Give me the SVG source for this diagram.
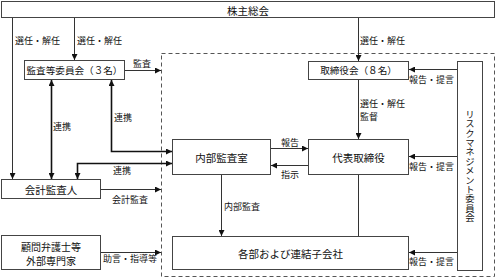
<svg xmlns="http://www.w3.org/2000/svg" width="496" height="279" viewBox="0 0 496 279">
<defs>
<marker id="ah" markerUnits="userSpaceOnUse" markerWidth="7" markerHeight="6" refX="6" refY="3" orient="auto-start-reverse"><path d="M0,0 L6,3 L0,6 z" fill="#111"/></marker>
<style>
.box{fill:#fff;stroke:#444;stroke-width:1}
.t{font-family:"Noto Sans CJK JP","Noto Sans",sans-serif;font-size:10.5px;fill:#111;text-anchor:middle;dominant-baseline:central}
.l{font-family:"Noto Sans CJK JP","Noto Sans",sans-serif;font-size:9px;fill:#111;dominant-baseline:central}
.v{font-family:"Noto Sans CJK JP","Noto Sans",sans-serif;font-size:9.4px;fill:#111;text-anchor:middle;writing-mode:vertical-rl;text-orientation:upright}
.c{fill:none;stroke:#333;stroke-width:1}
.k{fill:none;stroke:#111;stroke-width:1.6}
</style>
</defs>
<rect x="161.5" y="53.5" width="333" height="223" fill="none" stroke="#555" stroke-width="1" stroke-dasharray="4,3"/>
<g id="shareholders"><rect class="box" x="1.5" y="1.5" width="493" height="16"/><text class="t" x="248" y="10">株主総会</text></g>
<g id="audit-committee"><rect class="box" x="24.5" y="60.5" width="100" height="19"/><text class="t" x="74.5" y="70" style="font-size:9.6px">監査等委員会（３名）</text></g>
<g id="board"><rect class="box" x="308.5" y="61.5" width="100" height="18"/><text class="t" x="358.5" y="70" style="font-size:9.6px">取締役会（８名）</text></g>
<g id="representative"><rect class="box" x="308.5" y="139.5" width="100" height="35"/><text class="t" x="358.5" y="157">代表取締役</text></g>
<g id="internal-audit"><rect class="box" x="172.5" y="139.5" width="98" height="35"/><text class="t" x="221.5" y="157">内部監査室</text></g>
<g id="accounting-auditor"><rect class="box" x="1.5" y="179.5" width="99" height="19"/><text class="t" x="51" y="189">会計監査人</text></g>
<g id="advisors"><rect class="box" x="1.5" y="235.5" width="99" height="34"/><text class="t" x="51" y="246" style="font-size:10px">顧問弁護士等</text><text class="t" x="51" y="260" style="font-size:10px">外部専門家</text></g>
<g id="divisions"><rect class="box" x="172.5" y="236.5" width="236" height="33"/><text class="t" x="290.5" y="253">各部および連結子会社</text></g>
<g id="risk-committee"><rect class="box" x="457.5" y="61.5" width="25" height="209"/><text class="v" x="470" y="166">リスクマネジメント委員会</text></g>
<g id="connectors">
<path class="c" d="M12.5,18 V179" marker-end="url(#ah)"/>
<path class="c" d="M74.5,18 V60" marker-end="url(#ah)"/>
<path class="c" d="M358.5,18 V61" marker-end="url(#ah)"/>
<path class="c" d="M125,70.5 H161" marker-end="url(#ah)"/>
<path class="k" d="M51.5,80 V179" marker-start="url(#ah)" marker-end="url(#ah)"/>
<path class="k" d="M111.5,80 V151.5 H172" marker-start="url(#ah)" marker-end="url(#ah)"/>
<path class="k" d="M172,163.5 H77.5 V179" marker-start="url(#ah)" marker-end="url(#ah)"/>
<path class="c" d="M101,189.5 H161" marker-end="url(#ah)"/>
<path class="c" d="M101,252.5 H161" marker-end="url(#ah)"/>
<path class="c" d="M358.5,80 V139" marker-end="url(#ah)"/>
<path class="c" d="M271,148.5 H308" marker-end="url(#ah)"/>
<path class="c" d="M308,165.5 H271" marker-end="url(#ah)"/>
<path class="c" d="M221.5,175 V236" marker-end="url(#ah)"/>
<path class="c" d="M358.5,175 V236"/>
<path class="c" d="M457,69.5 H409" marker-end="url(#ah)"/>
<path class="c" d="M457,156.5 H409" marker-end="url(#ah)"/>
<path class="c" d="M457,252.5 H409" marker-end="url(#ah)"/>
<text class="l" x="15" y="40">選任・解任</text>
<text class="l" x="77" y="40">選任・解任</text>
<text class="l" x="360" y="40">選任・解任</text>
<text class="l" x="133" y="63">監査</text>
<text class="l" x="53" y="126">連携</text>
<text class="l" x="114" y="117">連携</text>
<text class="l" x="113" y="170">連携</text>
<text class="l" x="112" y="199">会計監査</text>
<text class="l" x="103" y="258">助言・指導等</text>
<text class="l" x="224" y="206">内部監査</text>
<text class="l" x="281" y="142">報告</text>
<text class="l" x="281" y="174">指示</text>
<text class="l" x="360" y="103">選任・解任</text>
<text class="l" x="360" y="116">監督</text>
<text class="l" x="409" y="79">報告・提言</text>
<text class="l" x="409" y="166">報告・提言</text>
<text class="l" x="409" y="261">報告・提言</text>
</g>
</svg>
